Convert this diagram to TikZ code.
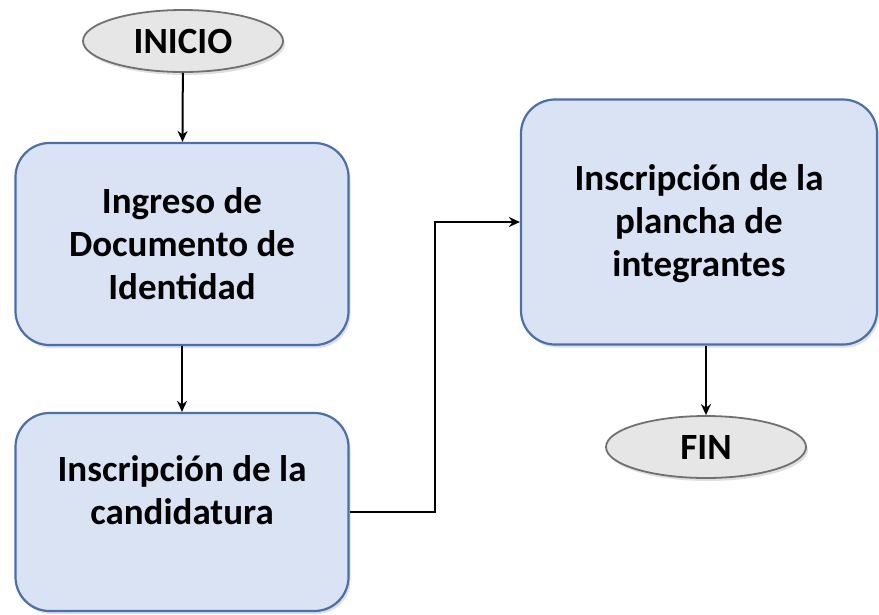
\documentclass[tikz,border=0pt]{standalone}
\usepackage{fontspec}
\setmainfont{Carlito}
\usepackage{tikz}
\usetikzlibrary{arrows.meta,positioning,shapes.geometric,shadows}

\definecolor{boxfill}{HTML}{DAE3F3}
\definecolor{boxline}{HTML}{4A6FAE}
\definecolor{termfill}{HTML}{E6E6E6}
\definecolor{termline}{HTML}{707070}

\tikzset{
  proceso/.style={draw=boxline, fill=boxfill, line width=2.2pt, rounded corners=34pt,
    minimum width=333pt, align=center, font=\fontsize{37}{43}\selectfont\bfseries,
    drop shadow={opacity=0.25, shadow xshift=2pt, shadow yshift=-3pt}},
  terminal/.style={ellipse, draw=termline, fill=termfill, line width=1.8pt,
    minimum width=200pt, minimum height=62pt, inner sep=0pt,
    font=\fontsize{37}{43}\selectfont\bfseries,
    drop shadow={opacity=0.25, shadow xshift=2pt, shadow yshift=-3pt}},
  flecha/.style={-{Stealth[length=11pt,width=10pt]}, line width=2pt}
}

\begin{document}
\begin{tikzpicture}[x=1pt,y=-1pt]
\useasboundingbox (0,0) rectangle (879,614);

\node[terminal] (inicio) at (183,41) {INICIO};
\node[proceso, minimum height=202pt] (ingreso) at (182,244) {Ingreso de\\Documento de\\Identidad};
\node[proceso, minimum height=198pt] (candidatura) at (182,512)
  {\raisebox{18pt}[\height][\depth]{\begin{tabular}{@{}c@{}}Inscripción de la\\candidatura\end{tabular}}};
\node[proceso, minimum width=356pt, minimum height=245pt] (plancha) at (699,222)
  {\raisebox{-3pt}[\height][\depth]{\begin{tabular}{@{}c@{}}Inscripción de la\\plancha de\\integrantes\end{tabular}}};
\node[terminal] (fin) at (706,447) {FIN};

\coordinate (codo) at (435,512);

\draw[flecha] (inicio) -- (ingreso);
\draw[flecha] (ingreso) -- (candidatura);
\draw[flecha] (candidatura.east) -- (codo) |- (plancha.west);
\draw[flecha] (plancha.south -| fin.north) -- (fin.north);

\end{tikzpicture}
\end{document}
